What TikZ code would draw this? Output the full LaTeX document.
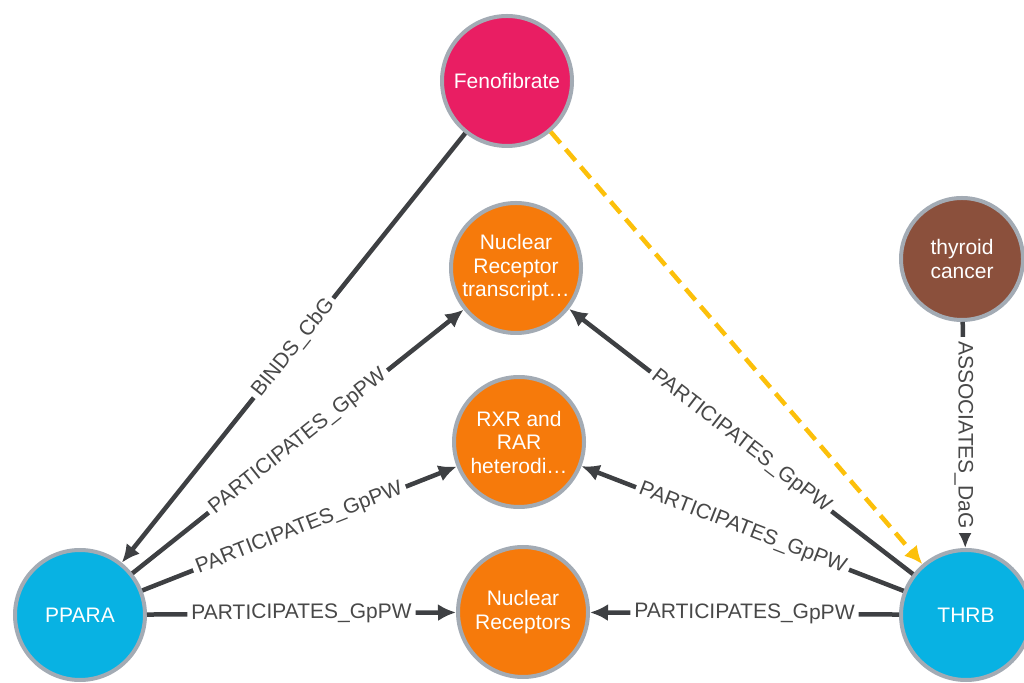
\documentclass[tikz,border=0pt]{standalone}
\usepackage{fontspec}
\setmainfont{Liberation Sans}
\usepackage{xcolor}
\usetikzlibrary{arrows.meta}
\definecolor{fucsia}{RGB}{233,30,99}
\definecolor{arancio}{RGB}{246,122,11}
\definecolor{azzurro}{RGB}{8,178,227}
\definecolor{marrone}{RGB}{139,80,60}
\definecolor{bordo}{RGB}{163,171,180}
\definecolor{grigio}{RGB}{62,64,67}
\definecolor{testo}{RGB}{72,72,72}
\definecolor{giallo}{RGB}{252,192,10}

\begin{document}
\begin{tikzpicture}[x = 1pt, y = 1pt,
    nodo/.style = {circle, draw = bordo, line width = 4pt, minimum size = 130pt, inner sep = 0pt, text = white, align = center, font = \fontsize{21}{23.5}\selectfont},
    arco/.style = {draw = grigio, line width = 4.5pt, -{Latex[length = 18pt, width = 17pt]}},
    etichetta/.style = {fill = white, text = testo, inner sep = 4pt, font = \fontsize{21}{23}\selectfont}]
    % Parametri
    \pgfmathsetmacro{\xmax}{1024}
    \pgfmathsetmacro{\ymax}{682}
    \useasboundingbox (0,0) rectangle (\xmax,\ymax);
    % Nodi
    \node[nodo, fill = fucsia] (feno) at (507,601) {Fenofibrate};
    \node[nodo, fill = arancio] (nrt) at (516,414) {Nuclear\\Receptor\\transcript…};
    \node[nodo, fill = arancio] (rxr) at (519,240) {RXR and\\RAR\\heterodi…};
    \node[nodo, fill = arancio] (nr) at (523,70) {Nuclear\\Receptors};
    \node[nodo, fill = azzurro] (ppara) at (80,67) {PPARA};
    \node[nodo, fill = azzurro] (thrb) at (966,67) {THRB};
    \node[nodo, fill = marrone, minimum size = 122pt] (thy) at (962,423) {thyroid\\cancer};
    % Archi
    \draw[arco] (feno) -- (ppara) node[etichetta, pos = 0.5, sloped]{BINDS\_CbG};
    \draw[arco] (ppara) -- (nrt) node[etichetta, pos = 0.5, sloped]{PARTICIPATES\_GpPW};
    \draw[arco] (ppara) -- (rxr) node[etichetta, pos = 0.5, sloped]{PARTICIPATES\_GpPW};
    \draw[arco] (ppara) -- (nr) node[etichetta, pos = 0.5, sloped]{PARTICIPATES\_GpPW};
    \draw[arco] (thrb) -- (nrt) node[etichetta, pos = 0.5, sloped]{PARTICIPATES\_GpPW};
    \draw[arco] (thrb) -- (rxr) node[etichetta, pos = 0.5, sloped]{PARTICIPATES\_GpPW};
    \draw[arco] (thrb) -- (nr) node[etichetta, pos = 0.5, sloped]{PARTICIPATES\_GpPW};
    \draw[arco] (thy) -- (thrb) node[etichetta, pos = 0.5, rotate = -90]{ASSOCIATES\_DaG};
    % Arco tratteggiato
    \draw[arco, draw = giallo, dash pattern = on 15pt off 8pt, -{Latex[length = 18pt, width = 17pt, fill = giallo]}] (feno) -- (thrb);
\end{tikzpicture}
\end{document}
